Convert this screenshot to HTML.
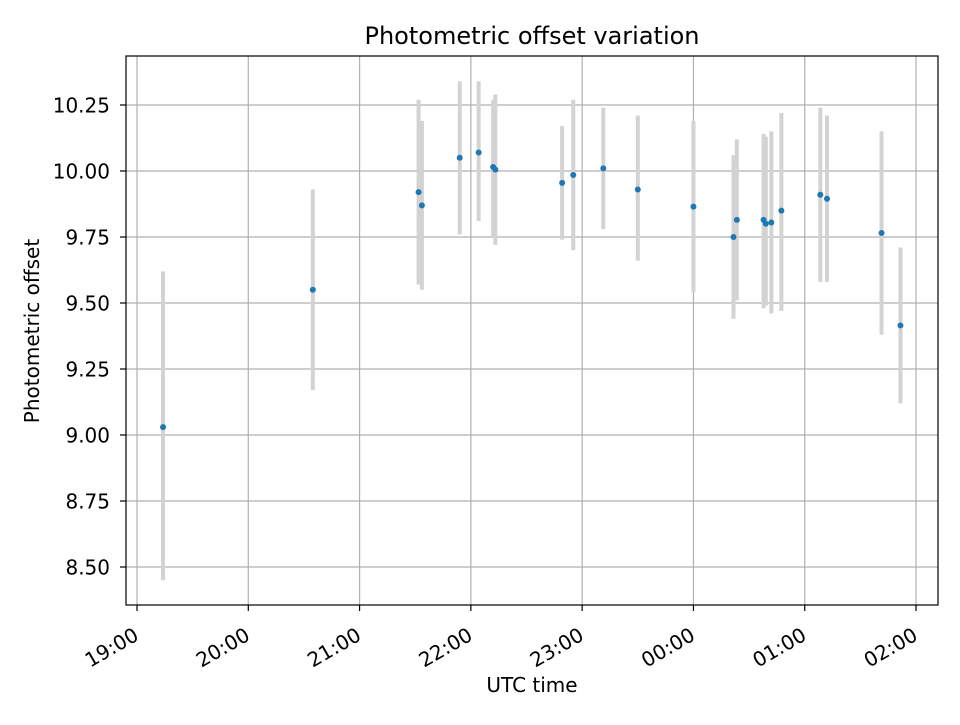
<!DOCTYPE html>
<html><head><meta charset="utf-8"><style>
body{margin:0;background:#fff;}
svg text{font-family:"DejaVu Sans","Liberation Sans",sans-serif;fill:#000;}
</style></head><body>
<svg id="chart" width="960" height="720" xmlns="http://www.w3.org/2000/svg">
<rect width="960" height="720" fill="#fff"/>
<g id="grid"></g>
<g id="marks"></g>
<rect x="126" y="56" width="812" height="549" fill="none" stroke="#000" stroke-width="1.2"/>
<g id="axes"></g>
<text x="532" y="44" font-size="24" text-anchor="middle">Photometric offset variation</text>
<text x="532" y="692" font-size="20" text-anchor="middle">UTC time</text>
<text transform="translate(39,331) rotate(-90)" font-size="20" text-anchor="middle">Photometric offset</text>
</svg>
<script>
// hours after 19:00 UTC
const times=[0.234,1.58,2.53,2.56,2.90,3.07,3.20,3.22,3.82,3.92,4.19,4.50,5.00,5.36,5.39,5.63,5.65,5.70,5.79,6.14,6.20,6.69,6.86];
const offsets=[9.03,9.55,9.92,9.87,10.05,10.07,10.015,10.005,9.955,9.985,10.01,9.93,9.865,9.75,9.815,9.815,9.80,9.805,9.85,9.91,9.895,9.765,9.415];
const errLow=[8.45,9.17,9.57,9.55,9.76,9.81,9.75,9.72,9.74,9.70,9.78,9.66,9.54,9.44,9.51,9.48,9.49,9.46,9.47,9.58,9.58,9.38,9.12];
const errHigh=[9.62,9.93,10.27,10.19,10.34,10.34,10.27,10.29,10.17,10.27,10.24,10.21,10.19,10.06,10.12,10.14,10.13,10.15,10.22,10.24,10.21,10.15,9.71];
const xTickLabels=["19:00","20:00","21:00","22:00","23:00","00:00","01:00","02:00"];
const yTicks=[8.5,8.75,9.0,9.25,9.5,9.75,10.0,10.25];
const NS="http://www.w3.org/2000/svg";
const xs=h=>137+h*111.29;
const ys=v=>567-(v-8.5)*264;
function mk(tag,attrs,parent){const e=document.createElementNS(NS,tag);for(const k in attrs)e.setAttribute(k,attrs[k]);document.getElementById(parent).appendChild(e);return e;}
xTickLabels.forEach((lab,i)=>{
  const x=xs(i);
  const g=mk("line",{x1:x,x2:x,y1:56,y2:605,stroke:"#b0b0b0","stroke-width":1.2},"grid");
  
  
  const t=mk("line",{x1:x,x2:x,y1:605,y2:611,stroke:"#000","stroke-width":1.2},"axes");
  
  
  const tx=mk("text",{transform:`translate(${x+3},${639}) rotate(-30)`,"font-size":20,"text-anchor":"end"},"axes");
  tx.textContent=lab;
  
  
});
yTicks.forEach(v=>{
  const y=ys(v);
  const g=mk("line",{x1:126,x2:938,y1:y,y2:y,stroke:"#b0b0b0","stroke-width":1.2},"grid");
  
  
  const t=mk("line",{x1:120,x2:126,y1:y,y2:y,stroke:"#000","stroke-width":1.2},"axes");
  
  
  const tx=mk("text",{x:110,y:y+7.5,"font-size":20,"text-anchor":"end"},"axes");
  tx.textContent=v.toFixed(2);
  
  
});
times.forEach((h,i)=>{
  const x=xs(h);
  const e=mk("line",{x1:x,x2:x,y1:ys(errLow[i]),y2:ys(errHigh[i]),stroke:"#d3d3d3","stroke-width":4},"marks");
  
  
});
times.forEach((h,i)=>{
  const c=mk("circle",{cx:xs(h),cy:ys(offsets[i]),r:3,fill:"#1f77b4"},"marks");
  
  
});
</script>
</body></html>
